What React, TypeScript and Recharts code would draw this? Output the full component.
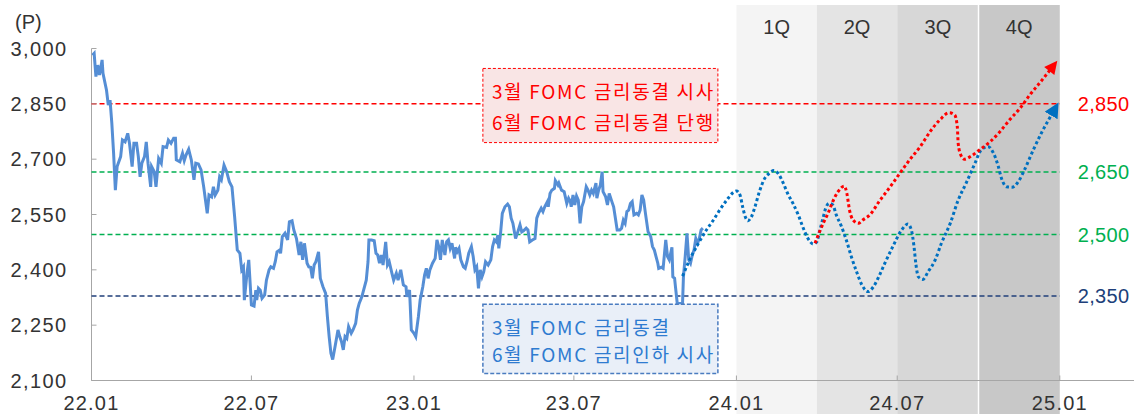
import { LineChart, Line, XAxis, YAxis, ReferenceLine, ReferenceArea } from 'recharts';

// day index counted from 2022-01-01, KOSPI close (P)
const kospi: [number, number][] = [
  [1, 2982], [3, 2987], [5, 2924], [7, 2955], [9, 2928], [12, 2969], [13, 2933], [17, 2887], [19, 2847], [21, 2860],
  [23, 2798], [25, 2717], [27, 2616], [29, 2680], [33, 2707], [35, 2752], [38, 2747], [41, 2770], [43, 2743], [46, 2680],
  [48, 2743], [51, 2743], [53, 2707], [55, 2652], [57, 2689], [60, 2707], [62, 2747], [64, 2689], [67, 2625], [68, 2680],
  [71, 2666], [73, 2625], [76, 2702], [79, 2689], [81, 2734], [85, 2732], [87, 2752], [90, 2743], [93, 2757], [95, 2757],
  [96, 2698], [100, 2693], [103, 2716], [105, 2696], [107, 2711], [110, 2727], [113, 2698], [116, 2644], [118, 2689], [121, 2687],
  [124, 2671], [127, 2625], [131, 2553], [133, 2603], [136, 2598], [138, 2625], [140, 2603], [143, 2616], [145, 2652], [147, 2644],
  [150, 2684], [153, 2666], [156, 2639], [159, 2625], [162, 2544], [165, 2454], [168, 2445], [170, 2400], [172, 2408], [173, 2318],
  [176, 2391], [178, 2427], [181, 2305], [184, 2302], [186, 2345], [187, 2318], [189, 2350], [191, 2345], [193, 2323], [196, 2332],
  [198, 2372], [201, 2400], [203, 2408], [206, 2404], [208, 2422], [210, 2449], [213, 2454], [214, 2445], [216, 2490], [219, 2499],
  [222, 2481], [224, 2530], [227, 2533], [229, 2508], [232, 2485], [235, 2440], [237, 2476], [239, 2427], [241, 2472], [244, 2418],
  [246, 2408], [248, 2407], [250, 2377], [252, 2413], [254, 2422], [257, 2449], [259, 2377], [262, 2354], [265, 2336], [267, 2273],
  [269, 2219], [271, 2174], [273, 2157], [276, 2196], [279, 2237], [281, 2219], [283, 2205], [285, 2183], [287, 2219], [289, 2214],
  [291, 2246], [294, 2228], [296, 2237], [299, 2255], [301, 2291], [303, 2309], [306, 2327], [308, 2345], [311, 2372], [313, 2422],
  [314, 2481], [317, 2481], [320, 2479], [322, 2445], [324, 2440], [326, 2418], [328, 2440], [330, 2413], [333, 2476], [335, 2413],
  [337, 2422], [340, 2391], [342, 2372], [345, 2391], [347, 2372], [350, 2400], [353, 2359], [356, 2354], [357, 2327], [360, 2345],
  [362, 2237], [365, 2228], [367, 2219], [370, 2273], [372, 2318], [375, 2354], [377, 2386], [379, 2404], [381, 2377], [383, 2400],
  [386, 2418], [389, 2431], [391, 2481], [393, 2463], [395, 2427], [397, 2481], [400, 2440], [402, 2476], [404, 2481], [406, 2458],
  [408, 2472], [411, 2431], [412, 2461], [414, 2449], [416, 2458], [418, 2427], [421, 2408], [423, 2404], [425, 2422], [427, 2445],
  [430, 2463], [432, 2436], [434, 2400], [436, 2408], [438, 2350], [440, 2400], [442, 2381], [444, 2395], [446, 2422], [449, 2413],
  [452, 2427], [454, 2463], [456, 2481], [458, 2476], [460, 2494], [461, 2458], [463, 2499], [465, 2553], [468, 2571], [471, 2578],
  [473, 2571], [475, 2540], [477, 2526], [480, 2485], [482, 2499], [485, 2522], [487, 2503], [489, 2506], [492, 2513], [494, 2508],
  [496, 2476], [499, 2481], [502, 2485], [504, 2540], [506, 2553], [509, 2567], [511, 2558], [513, 2571], [516, 2585], [517, 2571],
  [519, 2607], [521, 2616], [524, 2621], [525, 2642], [528, 2630], [529, 2635], [532, 2616], [535, 2612], [538, 2580], [540, 2594],
  [542, 2585], [543, 2571], [545, 2603], [547, 2576], [549, 2600], [551, 2589], [553, 2526], [555, 2571], [557, 2585], [560, 2625],
  [562, 2616], [564, 2603], [566, 2616], [568, 2607], [571, 2635], [572, 2594], [574, 2616], [576, 2630], [578, 2666], [579, 2612],
  [582, 2598], [584, 2576], [586, 2607], [589, 2585], [591, 2571], [593, 2540], [595, 2508], [598, 2508], [600, 2513], [602, 2535],
  [604, 2526], [606, 2558], [608, 2562], [610, 2580], [612, 2585], [614, 2549], [617, 2553], [619, 2549], [621, 2562], [623, 2603],
  [625, 2589], [627, 2553], [630, 2503], [633, 2490], [635, 2463], [637, 2454], [639, 2436], [641, 2418], [642, 2404], [645, 2407],
  [647, 2404], [650, 2481], [652, 2436], [654, 2427], [657, 2461], [658, 2381], [660, 2377], [661, 2354], [663, 2309], [666, 2309],
  [669, 2309], [670, 2381], [672, 2436], [674, 2499], [676, 2427], [678, 2418], [680, 2440], [682, 2454], [684, 2485], [686, 2472],
  [688, 2485], [690, 2508], [692, 2513],
];

// rate-cut path (blue dotted)
const pathCut: [number, number][] = [
  [669, 2383], [677, 2427], [687, 2472], [696, 2508], [704, 2535], [711, 2562], [719, 2589], [726, 2609], [730, 2614], [734, 2603],
  [737, 2571], [740, 2544], [743, 2533], [747, 2544], [751, 2571], [756, 2612], [762, 2648], [768, 2663], [772, 2669], [777, 2662],
  [783, 2635], [788, 2607], [794, 2580], [800, 2549], [805, 2517], [811, 2485], [817, 2470], [821, 2476], [824, 2503], [828, 2540],
  [831, 2567], [835, 2580], [839, 2576], [843, 2549], [849, 2517], [855, 2476], [860, 2436], [866, 2395], [872, 2359], [879, 2341],
  [885, 2354], [892, 2386], [898, 2418], [907, 2463], [917, 2508], [924, 2524], [928, 2508], [931, 2463], [933, 2418], [936, 2381],
  [941, 2374], [947, 2395], [955, 2427], [962, 2472], [972, 2526], [981, 2589], [990, 2635], [1000, 2689], [1007, 2725], [1015, 2734],
  [1021, 2716], [1026, 2684], [1030, 2648], [1036, 2625], [1042, 2624], [1049, 2639], [1056, 2671], [1066, 2725], [1075, 2770], [1087, 2822],
];

// hold path (red dotted)
const pathHold: [number, number][] = [
  [819, 2472], [824, 2503], [829, 2530], [834, 2555], [839, 2585], [845, 2612], [852, 2627], [855, 2607], [858, 2562], [862, 2535],
  [868, 2526], [873, 2535], [881, 2549], [892, 2587], [904, 2625], [915, 2662], [926, 2698], [938, 2734], [949, 2774], [960, 2806],
  [971, 2826], [977, 2820], [980, 2788], [981, 2743], [984, 2711], [988, 2700], [996, 2709], [1005, 2725], [1017, 2747], [1028, 2774],
  [1039, 2806], [1051, 2838], [1062, 2874], [1073, 2906], [1085, 2942],
];

const xTicks = [0, 181, 365, 546, 730, 912, 1096];
const xTickLabels = ['22.01', '22.07', '23.01', '23.07', '24.01', '24.07', '25.01'];
const yTicks = [2100, 2250, 2400, 2550, 2700, 2850, 3000];

const quarterStarts = [730, 821, 912, 1004];
const quarterEnds = [821, 912, 1004, 1096];
const quarterLabels = ['1Q', '2Q', '3Q', '4Q'];
const quarterFills = ['#f4f4f4', '#e4e4e4', '#d7d7d7', '#c8c8c8'];

const levelValues = [2850, 2665, 2496, 2329];
const levelLabels = ['2,850', '2,650', '2,500', '2,350'];
const levelColors = ['#ff0000', '#00b050', '#00b050', '#203f7a'];

const noteHold = ['3월 FOMC 금리동결 시사', '6월 FOMC 금리동결 단행'];
const noteCut = ['3월 FOMC 금리동결', '6월 FOMC 금리인하 시사'];

const toRows = (pts: [number, number][]) => pts.map(([d, v]) => ({ d, v }));

const NUM_FONT = '"Liberation Sans", Arial, sans-serif';
const KR_FONT = '"Noto Sans CJK KR", "Liberation Sans", sans-serif';

function XTick(props: any) {
  const { x, y, index } = props;
  return (
    <g>
      <line x1={x} x2={x} y1={y} y2={y - 5} stroke="#a6a6a6" />
      <text x={x} y={y + 29.5} textAnchor="middle" fontSize={20} letterSpacing={1.2} fill="#333" fontFamily={NUM_FONT}>
        {xTickLabels[index]}
      </text>
    </g>
  );
}

function YTick(props: any) {
  const { x, y, payload } = props;
  return (
    <g>
      <line x1={x} x2={x + 5} y1={y} y2={y} stroke="#a6a6a6" />
      <text x={x - 24} y={y + 7} textAnchor="end" fontSize={20} letterSpacing={1.4} fill="#333" fontFamily={NUM_FONT}>
        {payload.value.toLocaleString('en-US')}
      </text>
    </g>
  );
}

const noteLabel = (lines: string[], color: string, gap: number) => (props: any) => {
  const { x, y } = props.viewBox;
  return (
    <g>
      {lines.map((t, i) => (
        <text
          key={i}
          x={x + 9}
          y={y + 22 + i * gap}
          dominantBaseline="central"
          fill={color}
          fontSize={19}
          letterSpacing={1.7}
          fontFamily={KR_FONT}
        >
          {t}
        </text>
      ))}
    </g>
  );
};

export default function App() {
  return (
    <div style={{ position: 'absolute', left: 0, top: 0, background: '#fff' }}>
      <LineChart width={1134} height={414} margin={{ top: 5, right: 0, bottom: 0, left: 0 }}>
        <defs>
          <marker id="arrowCut" viewBox="0 0 10 10" refX="1" refY="5" markerWidth="15" markerHeight="15"
            markerUnits="userSpaceOnUse" orient="auto">
            <path d="M0,0 L10,5 L0,10 z" fill="#0070c0" />
          </marker>
          <marker id="arrowHold" viewBox="0 0 10 10" refX="1" refY="5" markerWidth="15" markerHeight="13"
            markerUnits="userSpaceOnUse" orient="auto">
            <path d="M0,0 L10,5 L0,10 z" fill="#ff0000" />
          </marker>
        </defs>

        {quarterLabels.map((q, i) => (
          <ReferenceArea
            key={q}
            x1={quarterStarts[i]}
            x2={quarterEnds[i]}
            y1={2008}
            y2={3118}
            fill={quarterFills[i]}
            fillOpacity={1}
            ifOverflow="visible"
            label={{ value: q, position: 'insideTop', offset: 15, fill: '#333', fontSize: 20, fontFamily: NUM_FONT }}
          />
        ))}
        <ReferenceLine
          segment={[{ x: 1004, y: 2008 }, { x: 1004, y: 3118 }]}
          stroke="#fff"
          strokeWidth={1.5}
          ifOverflow="visible"
        />

        <XAxis
          type="number"
          dataKey="d"
          domain={[0, 1180]}
          ticks={xTicks}
          allowDataOverflow
          stroke="#a6a6a6"
          tickLine={false}
          tickSize={0}
          tickMargin={0}
          height={33.5}
          tick={<XTick />}
          interval={0}
        />
        <YAxis
          type="number"
          domain={[2100, 3118]}
          ticks={yTicks}
          allowDataOverflow
          axisLine={false}
          tickLine={false}
          tickSize={0}
          tickMargin={0}
          width={91.5}
          tick={<YTick />}
          interval={0}
          label={() => (
            <text x={15} y={29} fontSize={20} fill="#333" fontFamily={NUM_FONT}>(P)</text>
          )}
        />
        <ReferenceLine segment={[{ x: 0, y: 2100 }, { x: 0, y: 3000 }]} stroke="#a6a6a6" />

        {levelValues.map((v, i) => (
          <ReferenceLine
            key={v}
            segment={[{ x: 0, y: v }, { x: 1096, y: v }]}
            stroke={levelColors[i]}
            strokeWidth={1.5}
            strokeDasharray="5 3"
            label={{
              value: levelLabels[i],
              position: 'right',
              offset: 18,
              fill: levelColors[i],
              fontSize: 20,
              fontFamily: NUM_FONT,
              letterSpacing: 0.3,
            }}
          />
        ))}

        <ReferenceArea
          x1={443}
          x2={709}
          y1={2745}
          y2={2946}
          fill="#f9e5e5"
          fillOpacity={1}
          stroke="#ff0000"
          strokeDasharray="3 2"
          ifOverflow="visible"
          zIndex={450}
          label={noteLabel(noteHold, '#ff0000', 31)}
        />
        <ReferenceArea
          x1={443}
          x2={709}
          y1={2119}
          y2={2307}
          fill="#e9eff8"
          fillOpacity={1}
          stroke="#4a7cc0"
          strokeWidth={1.5}
          strokeDasharray="4 2"
          ifOverflow="visible"
          zIndex={450}
          label={noteLabel(noteCut, '#2e7bd0', 27)}
        />

        <Line
          data={toRows(kospi)}
          dataKey="v"
          type="linear"
          stroke="#558ed5"
          strokeWidth={3}
          dot={false}
          activeDot={false}
          isAnimationActive={false}
        />
        <Line
          data={toRows(pathCut)}
          dataKey="v"
          type="monotone"
          stroke="#0070c0"
          strokeWidth={3}
          strokeDasharray="3 2.6"
          dot={false}
          activeDot={false}
          markerEnd="url(#arrowCut)"
          isAnimationActive={false}
        />
        <Line
          data={toRows(pathHold)}
          dataKey="v"
          type="monotone"
          stroke="#ff0000"
          strokeWidth={3}
          strokeDasharray="3 2.6"
          dot={false}
          activeDot={false}
          markerEnd="url(#arrowHold)"
          isAnimationActive={false}
        />
      </LineChart>
    </div>
  );
}
